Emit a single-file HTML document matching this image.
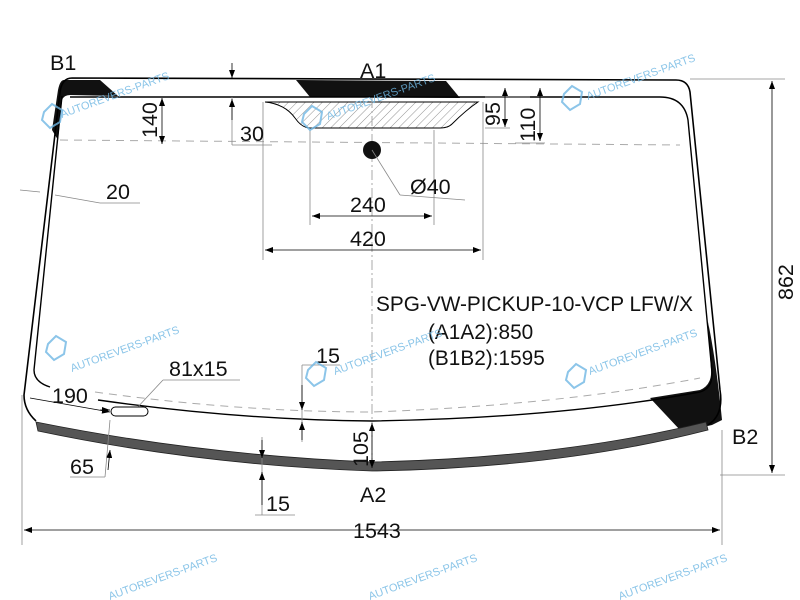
<!DOCTYPE html>
<html><head><meta charset="utf-8"><style>
html,body{margin:0;padding:0;background:#fff;}
svg{display:block;font-family:"Liberation Sans",Arial,sans-serif;}
</style></head><body>
<svg width="800" height="600" viewBox="0 0 800 600" xmlns="http://www.w3.org/2000/svg">
<defs>
<pattern id="h" width="6" height="6" patternUnits="userSpaceOnUse" patternTransform="rotate(45)">
<line x1="0" y1="0" x2="0" y2="6" stroke="#777" stroke-width="0.8"/></pattern>
<marker id="a" markerWidth="8" markerHeight="6" refX="8" refY="3" orient="auto" markerUnits="userSpaceOnUse"><path d="M0,0 L8,3 L0,6z" fill="#000"/></marker>
</defs>
<!-- black bands -->
<path d="M64,80 Q60,80 58,90 L52,130 L58,140 L62,100 Q64,95 70,95 L118,96 L100,80z" fill="#111"/>
<path d="M296,80 L446,81 L460,98 L310,97z" fill="#111"/>
<path d="M708,322 Q716,360 722,420 L712,425 L690,430 L680,430 L650,398 L700,390 Q712,385 711,370z" fill="#111"/>
<!-- hatched band -->
<path d="M265,102 L478,102 Q466,110 452,124 Q448,128 440,128 L310,128 Q302,128 295,118 Q285,104 265,102z" fill="url(#h)" stroke="#000" stroke-width="1"/>
<!-- outer glass -->
<path d="M72,78 L676,80 Q688,80 690,92 L720,390 Q724,415 708,425 M36,421 Q24,410 24,395 L60,92 Q62,78 72,78" fill="none" stroke="#000" stroke-width="1.6"/>
<!-- inner -->
<path d="M70,97 L660,97 Q684,97 688,120 L712,372 Q713,388 700,392" fill="none" stroke="#000" stroke-width="1.4"/>
<path d="M62,96 L34,370 Q34,382 50,387" fill="none" stroke="#000" stroke-width="1.4"/>
<path d="M98,400 Q240,420 372,421 Q560,418 700,392" fill="none" stroke="#000" stroke-width="1.4"/>
<!-- gray strip -->
<path d="M36,422 Q200,455 372,462 Q560,458 706,422 L708,430 Q560,468 372,471 Q200,465 38,431z" fill="#555" stroke="#222" stroke-width="0.8"/>
<!-- dashed -->
<path d="M60,140 L680,145" stroke="#aaa" stroke-dasharray="8,6" fill="none"/>
<path d="M95,392 Q240,412 372,412 Q560,405 700,378" stroke="#aaa" stroke-dasharray="8,6" fill="none"/>
<!-- center dash-dot -->
<path d="M372,98 L372,470" stroke="#aaa" stroke-dasharray="10,3,2,3" fill="none"/>
<circle cx="372" cy="150" r="9" fill="#111"/>
<!-- dimension lines -->
<g stroke="#888" stroke-width="0.8" fill="none">
<line x1="690" y1="79" x2="785" y2="79"/><line x1="720" y1="475" x2="785" y2="475"/>
<line x1="22" y1="395" x2="22" y2="545"/><line x1="722" y1="430" x2="722" y2="545"/>
<line x1="263" y1="102" x2="263" y2="260"/><line x1="483" y1="102" x2="483" y2="260"/>
<line x1="310" y1="130" x2="310" y2="225"/><line x1="434" y1="130" x2="434" y2="225"/>
<line x1="372" y1="150" x2="400" y2="195"/><line x1="400" y1="195" x2="465" y2="200"/>
<line x1="232" y1="97" x2="232" y2="145"/><line x1="232" y1="145" x2="272" y2="145"/>
<line x1="20" y1="190" x2="40" y2="192"/><line x1="55" y1="195" x2="100" y2="203"/><line x1="100" y1="203" x2="140" y2="203"/>
<line x1="485" y1="97" x2="530" y2="97"/><line x1="485" y1="128" x2="510" y2="128"/><line x1="515" y1="143" x2="545" y2="143"/>
<line x1="135" y1="410" x2="163" y2="380"/><line x1="163" y1="380" x2="240" y2="380"/>
<line x1="110" y1="420" x2="105" y2="477"/><line x1="105" y1="477" x2="70" y2="477"/>
<line x1="302" y1="365" x2="302" y2="442"/><line x1="302" y1="365" x2="340" y2="365"/>
<line x1="262" y1="437" x2="262" y2="515"/><line x1="255" y1="515" x2="295" y2="515"/>
</g>
<g stroke="#000" stroke-width="0.8" fill="none" marker-end="url(#a)">
<line x1="772" y1="290" x2="772" y2="81"/><line x1="772" y1="290" x2="772" y2="473"/>
<line x1="380" y1="530" x2="24" y2="530"/><line x1="380" y1="530" x2="720" y2="530"/>
<line x1="372" y1="250" x2="265" y2="250"/><line x1="372" y1="250" x2="481" y2="250"/>
<line x1="372" y1="216" x2="312" y2="216"/><line x1="372" y1="216" x2="432" y2="216"/>
<line x1="162" y1="120" x2="162" y2="98"/><line x1="162" y1="120" x2="162" y2="144"/>
<line x1="232" y1="63" x2="232" y2="78"/><line x1="232" y1="120" x2="232" y2="99"/>
<line x1="505" y1="110" x2="505" y2="88"/><line x1="505" y1="110" x2="505" y2="127"/>
<line x1="540" y1="110" x2="540" y2="88"/><line x1="540" y1="110" x2="540" y2="141"/>
<line x1="30" y1="398" x2="110" y2="412"/><line x1="100" y1="410" x2="110" y2="410"/>
<line x1="372" y1="440" x2="372" y2="423"/><line x1="372" y1="440" x2="372" y2="468"/>
<line x1="302" y1="385" x2="302" y2="410"/><line x1="302" y1="440" x2="302" y2="422"/>
<line x1="262" y1="440" x2="262" y2="458"/><line x1="262" y1="505" x2="262" y2="472"/>
<line x1="108" y1="470" x2="110" y2="450"/>
</g>
<rect x="111" y="407" width="37" height="9" rx="4.5" fill="#fff" stroke="#000" stroke-width="1"/>
<!-- text -->
<g font-size="21.5" fill="#111">
<text x="50" y="70">B1</text><text x="360" y="78">A1</text>
<text x="732" y="444">B2</text><text x="360" y="502">A2</text>
<text x="240" y="141">30</text><text x="106" y="199">20</text>
<text x="410" y="194">Ø40</text><text x="350" y="212">240</text><text x="350" y="246">420</text>
<text x="169" y="376">81x15</text><text x="316" y="363">15</text>
<text x="52" y="403">190</text><text x="70" y="474">65</text>
<text x="266" y="511">15</text><text x="353" y="538">1543</text>
<text x="376" y="311" font-size="20.8">SPG-VW-PICKUP-10-VCP LFW/X</text>
<text x="428" y="339" font-size="20.8">(A1A2):850</text><text x="428" y="365" font-size="20.8">(B1B2):1595</text>
<text transform="translate(157,138) rotate(-90)">140</text>
<text transform="translate(500,126) rotate(-90)">95</text>
<text transform="translate(535,142) rotate(-90)">110</text>
<text transform="translate(368,467) rotate(-90)">105</text>
<text transform="translate(793,300) rotate(-90)">862</text>
</g>
<!-- watermarks -->
<g fill="#6fb7e3" font-size="11" opacity="0.8">
<text transform="translate(62,118) rotate(-20)">AUTOREVERS-PARTS</text>
<text transform="translate(328,120) rotate(-20)">AUTOREVERS-PARTS</text>
<text transform="translate(588,100) rotate(-20)">AUTOREVERS-PARTS</text>
<text transform="translate(72,372) rotate(-20)">AUTOREVERS-PARTS</text>
<text transform="translate(335,375) rotate(-20)">AUTOREVERS-PARTS</text>
<text transform="translate(590,375) rotate(-20)">AUTOREVERS-PARTS</text>
<text transform="translate(110,600) rotate(-20)">AUTOREVERS-PARTS</text>
<text transform="translate(370,600) rotate(-20)">AUTOREVERS-PARTS</text>
<text transform="translate(620,600) rotate(-20)">AUTOREVERS-PARTS</text>
</g>
<g fill="none" stroke="#6fb7e3" stroke-width="2" opacity="0.8">
<polygon points="44,112 52,104 62,110 60,122 50,128 42,120"/>
<polygon points="304,114 312,106 322,112 320,124 310,130 302,122"/>
<polygon points="564,94 572,86 582,92 580,104 570,110 562,102"/>
<polygon points="48,344 56,336 66,342 64,354 54,360 46,352"/>
<polygon points="308,370 316,362 326,368 324,380 314,386 306,378"/>
<polygon points="568,372 576,364 586,370 584,382 574,388 566,380"/>
</g>
</svg>
</body></html>
